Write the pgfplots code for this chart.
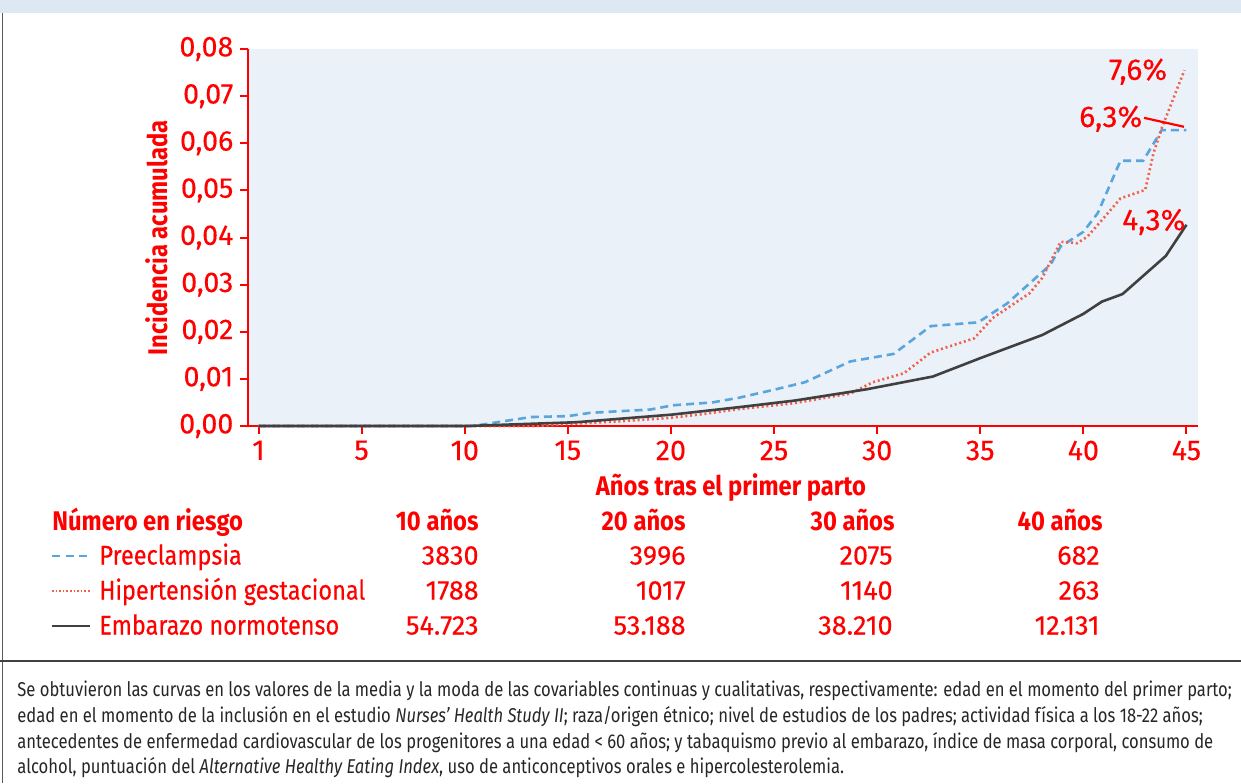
\documentclass[border=0pt]{standalone}
\usepackage{fontspec}
\setmainfont{Fira Sans}
\newfontfamily\condfont[FakeStretch=0.83]{Fira Sans}
\newfontfamily\tabfont[FakeStretch=0.87, FakeBold=0.3]{Fira Sans}
\newfontfamily\tabbold[FakeStretch=0.88]{Fira Sans Bold}
\newfontfamily\numfont[FakeBold=0.3]{Fira Sans}
\usepackage{pgfplots}
\pgfplotsset{compat=1.18}
\definecolor{txtred}{HTML}{FF0000}
\definecolor{bgblue}{HTML}{EAF1F9}
\definecolor{bandblue}{HTML}{DDE8F4}
\definecolor{preblue}{HTML}{5AA5DC}
\definecolor{hipred}{HTML}{F0604A}
\definecolor{normgray}{HTML}{404040}

\pgfplotstableread{
x y
0 0
10.4 0
13.2 0.0019
15.0 0.0021
16.1 0.0028
19.0 0.0035
20.1 0.0044
22.0 0.0050
23.3 0.0060
25.0 0.0077
26.5 0.0093
28.7 0.0137
30.8 0.0153
32.6 0.0212
34.9 0.0220
36.3 0.0260
38.4 0.0342
38.9 0.0381
40.0 0.0412
40.7 0.0452
41.8 0.0563
42.9 0.0563
43.8 0.0628
45.0 0.0628
}\pre

\pgfplotstableread{
x y
0 0
13.5 0
15.3 0.0005
17.5 0.0010
19.9 0.0017
21.5 0.0025
23.3 0.0036
25.9 0.0048
28.7 0.0069
29.8 0.0093
31.3 0.0112
32.6 0.0156
34.7 0.0186
35.6 0.0229
37.4 0.0282
38.0 0.0314
38.9 0.0391
39.7 0.0388
40.2 0.0402
40.9 0.0437
41.8 0.0483
43.0 0.0501
43.4 0.0579
43.8 0.0632
44.9 0.0755
}\hip

\pgfplotstableread{
x y
0 0
10.1 0
15.4 0.0008
20.0 0.0024
23.3 0.0040
26.0 0.0054
29.5 0.0078
32.7 0.0105
35.0 0.0144
38.0 0.0193
40.0 0.0238
40.9 0.0264
41.9 0.0280
44.0 0.0361
45.0 0.0427
}\norm

\begin{document}
\begin{tikzpicture}
\path[use as bounding box] (0,0) rectangle (620.5pt,-391.5pt);
\fill[bandblue] (0,0) rectangle (620.5pt,-6.5pt);
\draw[black!65, line width=0.9pt] (1.2pt,-6.5pt) -- (1.2pt,-391.5pt);
\draw[black!75, line width=0.8pt] (0,-330.5pt) -- (620.5pt,-330.5pt);

\begin{axis}[
 at={(124pt,-213pt)}, anchor=south west,
 scale only axis, width=475pt, height=188.5pt,
 xmin=-0.51, xmax=45.56, ymin=0, ymax=0.08,
 scaled y ticks=false,
 axis lines=left, axis line style={-, txtred, line width=1pt},
 axis background/.style={fill=bgblue},
 tick align=outside, major tick length=3.8pt,
 tick style={txtred, line width=1pt},
 xtick={0,5,...,45}, xticklabels={1,5,10,15,20,25,30,35,40,45},
 ytick={0,0.01,0.02,0.03,0.04,0.05,0.06,0.07,0.08},
 yticklabels={{0,00},{0,01},{0,02},{0,03},{0,04},{0,05},{0,06},{0,07},{0,08}},
 tick label style={font=\numfont\fontsize{14.3}{16}\selectfont, text=txtred},
 clip=false,
]
\addplot[preblue, line width=1.3pt, dash pattern=on 4pt off 2.5pt] table {\pre};
\addplot[hipred, line width=1.3pt, dash pattern=on 1pt off 1.4pt] table {\hip};
\addplot[normgray, line width=1.3pt] table {\norm};
\node[txtred, font=\numfont\fontsize{15}{17}\selectfont] at (axis cs:42.65,0.0752) {7,6\%};
\node[txtred, font=\numfont\fontsize{15}{17}\selectfont] at (axis cs:41.33,0.0652) {6,3\%};
\draw[txtred, line width=1.1pt] (axis cs:42.94,0.0654) -- (axis cs:44.88,0.0635);
\node[txtred, font=\numfont\fontsize{15}{17}\selectfont] at (axis cs:43.42,0.0433) {4,3\%};
\end{axis}

\node[rotate=90, txtred, font=\tabbold\fontsize{13.5}{15}\selectfont] at (78.5pt,-119pt) {Incidencia acumulada};
\node[txtred, font=\tabbold\fontsize{13.5}{15}\selectfont] at (365.5pt,-244pt) {Años tras el primer parto};

\begin{scope}[every node/.style={inner sep=0pt, txtred, font=\numfont\fontsize{13.5}{15}\selectfont}]
\node[anchor=base west, font=\tabbold\fontsize{13.5}{15}\selectfont] at (26pt,-265.25pt) {Número en riesgo};
\node[anchor=base east, font=\tabbold\fontsize{13.5}{15}\selectfont] at (239.5pt,-265.25pt) {10 años};
\node[anchor=base east, font=\tabbold\fontsize{13.5}{15}\selectfont] at (343pt,-265.25pt) {20 años};
\node[anchor=base east, font=\tabbold\fontsize{13.5}{15}\selectfont] at (447.5pt,-265.25pt) {30 años};
\node[anchor=base east, font=\tabbold\fontsize{13.5}{15}\selectfont] at (551.5pt,-265.25pt) {40 años};

\draw[preblue, line width=1.2pt, dash pattern=on 4pt off 2.8pt] (26pt,-278pt) -- (45pt,-278pt);
\draw[hipred, line width=1.2pt, dash pattern=on 0.8pt off 1pt] (26pt,-295.5pt) -- (45pt,-295.5pt);
\draw[normgray, line width=1.2pt] (26pt,-313pt) -- (45pt,-313pt);

\node[anchor=base west, font=\tabfont\fontsize{13.5}{15}\selectfont] at (49.5pt,-282.25pt) {Preeclampsia};
\node[anchor=base west, font=\tabfont\fontsize{13.5}{15}\selectfont] at (49.5pt,-299.75pt) {Hipertensión gestacional};
\node[anchor=base west, font=\tabfont\fontsize{13.5}{15}\selectfont] at (49.5pt,-317.25pt) {Embarazo normotenso};

\node[anchor=base east] at (239.5pt,-282.25pt) {3830};
\node[anchor=base east] at (343pt,-282.25pt) {3996};
\node[anchor=base east] at (446.5pt,-282.25pt) {2075};
\node[anchor=base east] at (550pt,-282.25pt) {682};
\node[anchor=base east] at (239.5pt,-299.75pt) {1788};
\node[anchor=base east] at (343pt,-299.75pt) {1017};
\node[anchor=base east] at (446.5pt,-299.75pt) {1140};
\node[anchor=base east] at (550pt,-299.75pt) {263};
\node[anchor=base east] at (239.5pt,-317.25pt) {54.723};
\node[anchor=base east] at (343pt,-317.25pt) {53.188};
\node[anchor=base east] at (446.5pt,-317.25pt) {38.210};
\node[anchor=base east] at (550pt,-317.25pt) {12.131};
\end{scope}

\begin{scope}[every node/.style={inner sep=0pt, anchor=base west, text=black!85, font=\condfont\fontsize{10}{12}\selectfont}]
\node at (8.5pt,-348pt) {Se obtuvieron las curvas en los valores de la media y la moda de las covariables continuas y cualitativas, respectivamente: edad en el momento del primer parto;};
\node at (8.5pt,-361pt) {edad en el momento de la inclusión en el estudio \textit{Nurses’ Health Study II}; raza/origen étnico; nivel de estudios de los padres; actividad física a los 18-22 años;};
\node at (8.5pt,-374pt) {antecedentes de enfermedad cardiovascular de los progenitores a una edad < 60 años; y tabaquismo previo al embarazo, índice de masa corporal, consumo de};
\node at (8.5pt,-386.5pt) {alcohol, puntuación del \textit{Alternative Healthy Eating Index}, uso de anticonceptivos orales e hipercolesterolemia.};
\end{scope}
\end{tikzpicture}
\end{document}
